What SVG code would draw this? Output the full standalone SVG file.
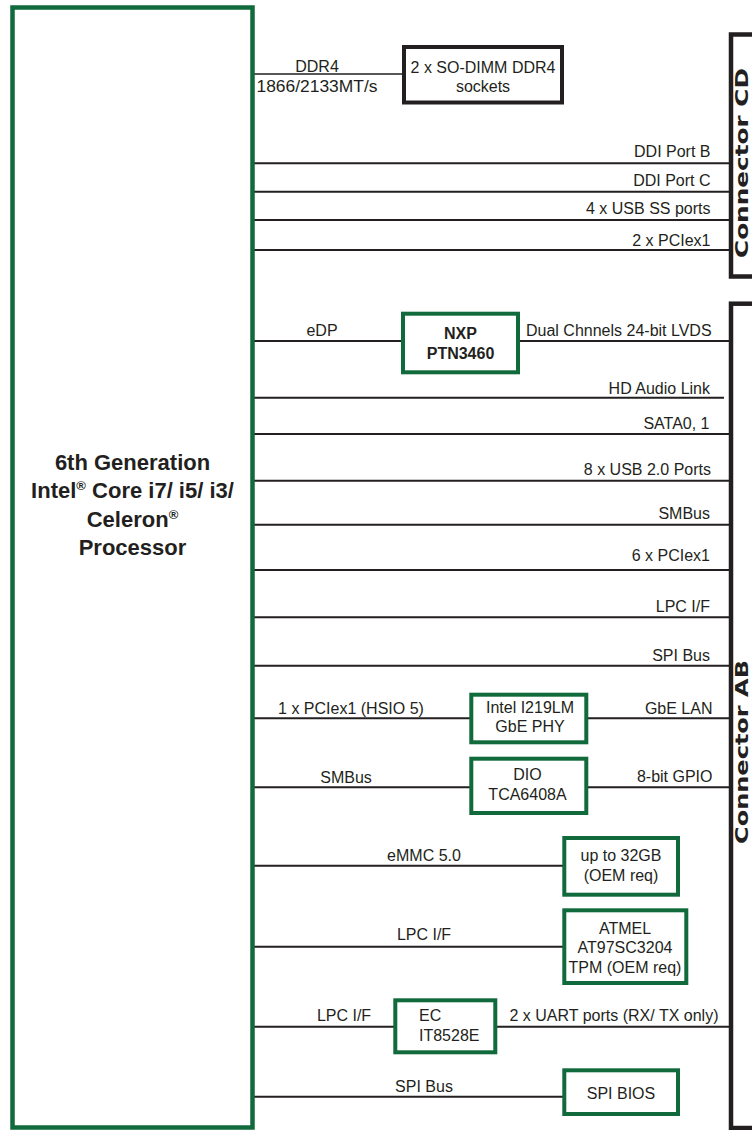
<svg xmlns="http://www.w3.org/2000/svg" width="752" height="1130" viewBox="0 0 752 1130">
<style>
text{font-family:"Liberation Sans",Arimo,Arial,sans-serif;font-size:16px;fill:#231f20}
.b{font-weight:bold}
.m{text-anchor:middle}
.e{text-anchor:end}
.cpu{font-size:22px;font-weight:bold;text-anchor:middle}
.conn{font-family:"DejaVu Sans",sans-serif;font-size:18.5px;font-weight:bold;text-anchor:middle}
.g{fill:#fff;stroke:#116a3b;stroke-width:4}
.k{fill:#fff;stroke:#231f20;stroke-width:4}
.c{fill:none;stroke:#231f20;stroke-width:4.5}
#connectors line{stroke:#231f20;stroke-width:2}
</style>
<rect width="752" height="1130" fill="#fff"/>
<g id="connectors">
<line x1="254" y1="74" x2="403" y2="74" style="stroke-width:1.5"/>
<line x1="254" y1="163.3" x2="730" y2="163.3"/>
<line x1="254" y1="191.7" x2="730" y2="191.7"/>
<line x1="254" y1="220" x2="730" y2="220"/>
<line x1="254" y1="250" x2="730" y2="250"/>
<line x1="254" y1="341" x2="402" y2="341"/>
<line x1="519" y1="341" x2="730" y2="341"/>
<line x1="254" y1="397.7" x2="724" y2="397.7"/>
<line x1="254" y1="434" x2="730" y2="434"/>
<line x1="254" y1="480.7" x2="730" y2="480.7"/>
<line x1="254" y1="524.7" x2="730" y2="524.7"/>
<line x1="254" y1="570" x2="730" y2="570"/>
<line x1="254" y1="617.3" x2="730" y2="617.3"/>
<line x1="254" y1="665.7" x2="730" y2="665.7"/>
<line x1="254" y1="718.3" x2="470" y2="718.3"/>
<line x1="588" y1="718.3" x2="730" y2="718.3"/>
<line x1="254" y1="787.3" x2="470" y2="787.3"/>
<line x1="588" y1="787.3" x2="730" y2="787.3"/>
<line x1="254" y1="865.7" x2="563" y2="865.7"/>
<line x1="254" y1="946.7" x2="563" y2="946.7"/>
<line x1="254" y1="1026.7" x2="394" y2="1026.7"/>
<line x1="497" y1="1026.7" x2="730" y2="1026.7"/>
<line x1="254" y1="1096.7" x2="563" y2="1096.7"/>
<text class="m" x="317" y="71.5">DDR4</text>
<text class="m" x="317" y="91.5" style="font-size:17px" textLength="121" lengthAdjust="spacingAndGlyphs">1866/2133MT/s</text>
<text class="e" x="710.5" y="157">DDI Port B</text>
<text class="e" x="710.5" y="185.5">DDI Port C</text>
<text class="e" x="710.5" y="214">4 x USB SS ports</text>
<text class="e" x="710.5" y="245.5">2 x PCIex1</text>
<text class="m" x="322" y="336">eDP</text>
<text x="526" y="336">Dual Chnnels 24-bit LVDS</text>
<text class="e" x="710" y="394">HD Audio Link</text>
<text class="e" x="709.5" y="428.5">SATA0, 1</text>
<text class="e" x="711" y="475">8 x USB 2.0 Ports</text>
<text class="e" x="710" y="519">SMBus</text>
<text class="e" x="710" y="561">6 x PCIex1</text>
<text class="e" x="710" y="611.5">LPC I/F</text>
<text class="e" x="710" y="660.5">SPI Bus</text>
<text class="m" x="351" y="714">1 x PCIex1 (HSIO 5)</text>
<text class="e" x="712.5" y="714">GbE LAN</text>
<text class="m" x="346" y="782.5">SMBus</text>
<text class="e" x="712.5" y="782">8-bit GPIO</text>
<text class="m" x="424" y="861">eMMC 5.0</text>
<text class="m" x="424" y="940">LPC I/F</text>
<text class="m" x="344" y="1021">LPC I/F</text>
<text x="509.5" y="1021">2 x UART ports (RX/ TX only)</text>
<text class="m" x="424" y="1091.5">SPI Bus</text>
</g>
<g id="cpu">
<rect x="12.5" y="7.5" width="240" height="1120" fill="#fff" stroke="#116a3b" stroke-width="4.5"/>
<text class="cpu" x="132.5" y="469.5">6th Generation</text>
<text class="cpu" x="132.5" y="498">Intel<tspan font-size="13" dy="-8">®</tspan><tspan dy="8"> Core i7/ i5/ i3/</tspan></text>
<text class="cpu" x="132.5" y="526.5">Celeron<tspan font-size="13" dy="-8">®</tspan></text>
<text class="cpu" x="132.5" y="555">Processor</text>
</g>
<g id="sodimm">
<rect class="k" x="404" y="47" width="158" height="55.5"/>
<text class="m" x="483" y="72.5">2 x SO-DIMM DDR4</text>
<text class="m" x="483" y="91.5">sockets</text>
</g>
<g id="connector-cd">
<rect class="c" x="731" y="34.5" width="40" height="242"/>
<text class="conn" transform="translate(747.5,163) rotate(-90)" textLength="190" lengthAdjust="spacingAndGlyphs">Connector CD</text>
</g>
<g id="connector-ab">
<rect class="c" x="731" y="303.7" width="40" height="824.3"/>
<text class="conn" transform="translate(747.5,752) rotate(-90)" textLength="184" lengthAdjust="spacingAndGlyphs">Connector AB</text>
</g>
<g id="nxp">
<rect class="g" x="403" y="313.7" width="115" height="58.6"/>
<text class="m b" x="460.5" y="338.5">NXP</text>
<text class="m b" x="460.5" y="358.5">PTN3460</text>
</g>
<g id="i219">
<rect class="g" x="471.3" y="694.7" width="115" height="47.6"/>
<text class="m" x="530" y="712.5">Intel I219LM</text>
<text class="m" x="530" y="732">GbE PHY</text>
</g>
<g id="dio">
<rect class="g" x="471.3" y="758.7" width="115" height="54.3"/>
<text class="m" x="527.5" y="780">DIO</text>
<text class="m" x="527.5" y="799.5">TCA6408A</text>
</g>
<g id="emmc">
<rect class="g" x="564.3" y="838" width="113.7" height="56.7"/>
<text class="m" x="621" y="860.5">up to 32GB</text>
<text class="m" x="621" y="880.5">(OEM req)</text>
</g>
<g id="tpm">
<rect class="g" x="564.3" y="910.3" width="122" height="72.7"/>
<text class="m" x="625" y="933.5">ATMEL</text>
<text class="m" x="625" y="953">AT97SC3204</text>
<text class="m" x="625" y="972.5">TPM (OEM req)</text>
</g>
<g id="ec">
<rect class="g" x="395.3" y="1000.3" width="100" height="52"/>
<text x="419" y="1021">EC</text>
<text x="419" y="1040.5">IT8528E</text>
</g>
<g id="spi-bios">
<rect class="g" x="564.3" y="1070.3" width="113.7" height="43.7"/>
<text class="m" x="621" y="1098.5">SPI BIOS</text>
</g>
</svg>
